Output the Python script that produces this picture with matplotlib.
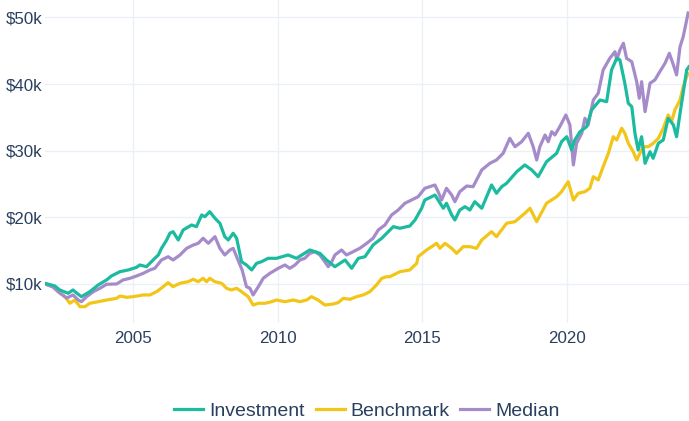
import matplotlib
matplotlib.use("Agg")
import matplotlib.pyplot as plt
from matplotlib.ticker import FuncFormatter

# growth of $10k, dates as decimal years
inv_year = [2001.95, 2002.29, 2002.46, 2002.75, 2002.92, 2003.04, 2003.21, 2003.50, 2003.79, 2004.08,
            2004.25, 2004.54, 2004.83, 2005.12, 2005.23, 2005.46, 2005.69, 2005.87, 2005.98, 2006.16,
            2006.27, 2006.38, 2006.56, 2006.73, 2007.02, 2007.19, 2007.37, 2007.48, 2007.65, 2007.83,
            2008.00, 2008.17, 2008.29, 2008.46, 2008.58, 2008.75, 2008.92, 2009.10, 2009.27, 2009.44,
            2009.67, 2009.96, 2010.36, 2010.65, 2011.11, 2011.46, 2011.69, 2011.98, 2012.33, 2012.56,
            2012.79, 2013.02, 2013.30, 2013.60, 2014.00, 2014.23, 2014.57, 2014.75, 2014.98, 2015.09,
            2015.33, 2015.44, 2015.55, 2015.73, 2015.84, 2016.02, 2016.13, 2016.30, 2016.48, 2016.65,
            2016.82, 2017.06, 2017.40, 2017.57, 2017.75, 2017.92, 2018.27, 2018.55, 2018.79, 2019.01,
            2019.30, 2019.65, 2019.82, 2020.00, 2020.17, 2020.28, 2020.46, 2020.69, 2020.86, 2021.15,
            2021.38, 2021.55, 2021.73, 2021.84, 2022.01, 2022.13, 2022.25, 2022.36, 2022.47, 2022.59,
            2022.71, 2022.88, 2022.99, 2023.17, 2023.34, 2023.51, 2023.69, 2023.80, 2023.92, 2024.15,
            2024.23]
inv_value = [10.10, 9.70, 9.10, 8.60, 9.10, 8.65, 8.09, 8.84, 9.85, 10.60,
             11.20, 11.84, 12.10, 12.50, 12.85, 12.59, 13.60, 14.35, 15.35, 16.60,
             17.61, 17.85, 16.60, 18.10, 18.85, 18.60, 20.35, 20.10, 20.85, 19.86,
             19.11, 17.10, 16.60, 17.61, 16.86, 13.34, 12.85, 12.10, 13.10, 13.34,
             13.85, 13.85, 14.35, 13.85, 15.10, 14.60, 13.60, 12.59, 13.60, 12.35,
             13.85, 14.09, 15.85, 16.86, 18.60, 18.36, 18.70, 19.60, 21.36, 22.60,
             23.10, 23.35, 22.60, 21.36, 22.11, 20.35, 19.60, 21.10, 21.60, 21.10,
             22.35, 21.36, 24.86, 23.61, 24.60, 25.11, 26.85, 27.86, 27.11, 26.10,
             28.35, 29.61, 31.35, 32.10, 30.11, 31.61, 32.86, 33.61, 36.11, 37.61,
             37.36, 42.12, 43.87, 43.62, 40.12, 37.12, 36.61, 32.62, 30.11, 32.10,
             28.11, 29.85, 28.86, 31.11, 31.61, 34.87, 33.86, 32.10, 35.62, 42.12,
             42.61]

bench_year = [2001.95, 2002.23, 2002.40, 2002.64, 2002.81, 2002.98, 2003.16, 2003.33, 2003.50, 2003.79,
              2004.08, 2004.43, 2004.54, 2004.77, 2005.00, 2005.35, 2005.58, 2005.81, 2006.04, 2006.21,
              2006.38, 2006.62, 2006.90, 2007.08, 2007.25, 2007.42, 2007.54, 2007.65, 2007.83, 2008.06,
              2008.23, 2008.40, 2008.58, 2008.75, 2008.98, 2009.15, 2009.33, 2009.56, 2009.79, 2009.96,
              2010.25, 2010.54, 2010.77, 2011.00, 2011.17, 2011.40, 2011.63, 2011.92, 2012.09, 2012.27,
              2012.50, 2012.73, 2012.96, 2013.19, 2013.42, 2013.60, 2013.77, 2013.88, 2014.23, 2014.57,
              2014.81, 2014.86, 2015.15, 2015.33, 2015.50, 2015.61, 2015.79, 2016.02, 2016.19, 2016.42,
              2016.65, 2016.88, 2017.06, 2017.40, 2017.57, 2017.92, 2018.21, 2018.55, 2018.73, 2018.96,
              2019.30, 2019.65, 2019.82, 2020.05, 2020.23, 2020.40, 2020.63, 2020.80, 2020.92, 2021.09,
              2021.26, 2021.44, 2021.61, 2021.73, 2021.90, 2022.01, 2022.13, 2022.30, 2022.42, 2022.53,
              2022.65, 2022.82, 2022.99, 2023.17, 2023.34, 2023.51, 2023.63, 2023.74, 2023.92, 2024.03,
              2024.15, 2024.20]
bench_value = [10.00, 9.59, 8.84, 8.09, 7.10, 7.59, 6.59, 6.59, 7.10, 7.34,
               7.59, 7.85, 8.19, 8.00, 8.09, 8.35, 8.35, 8.84, 9.59, 10.19,
               9.59, 10.10, 10.34, 10.70, 10.34, 10.85, 10.34, 10.85, 10.34, 10.10,
               9.35, 9.10, 9.35, 8.84, 8.09, 6.84, 7.10, 7.10, 7.34, 7.59,
               7.34, 7.59, 7.34, 7.59, 8.09, 7.59, 6.84, 6.99, 7.19, 7.85,
               7.70, 8.09, 8.35, 8.84, 9.85, 10.85, 11.09, 11.09, 11.84, 12.10,
               13.10, 14.09, 15.10, 15.60, 16.10, 15.35, 16.10, 15.35, 14.60, 15.60,
               15.60, 15.35, 16.60, 17.85, 17.10, 19.11, 19.35, 20.61, 21.36, 19.35,
               22.11, 23.10, 23.85, 25.35, 22.60, 23.61, 23.85, 24.36, 26.10, 25.61,
               27.60, 29.61, 32.10, 31.61, 33.37, 32.62, 31.11, 29.85, 28.61, 29.61,
               30.60, 30.60, 31.11, 31.86, 33.37, 35.36, 34.36, 36.11, 37.61, 39.61,
               41.11, 41.62]

med_year = [2001.95, 2002.22, 2002.46, 2002.70, 2002.92, 2003.10, 2003.21, 2003.39, 2003.62, 2003.85,
            2004.08, 2004.43, 2004.65, 2004.89, 2005.12, 2005.35, 2005.58, 2005.75, 2005.98, 2006.21,
            2006.38, 2006.62, 2006.85, 2007.08, 2007.25, 2007.42, 2007.60, 2007.83, 2008.00, 2008.17,
            2008.35, 2008.46, 2008.58, 2008.77, 2008.92, 2009.04, 2009.15, 2009.33, 2009.50, 2009.73,
            2010.02, 2010.25, 2010.42, 2010.60, 2010.77, 2010.94, 2011.11, 2011.29, 2011.46, 2011.63,
            2011.75, 2011.87, 2011.98, 2012.21, 2012.38, 2012.61, 2012.84, 2013.08, 2013.30, 2013.48,
            2013.71, 2013.94, 2014.17, 2014.40, 2014.63, 2014.86, 2015.09, 2015.33, 2015.44, 2015.55,
            2015.67, 2015.84, 2016.02, 2016.13, 2016.30, 2016.54, 2016.76, 2017.06, 2017.34, 2017.57,
            2017.80, 2018.03, 2018.21, 2018.44, 2018.67, 2018.84, 2018.96, 2019.07, 2019.25, 2019.36,
            2019.48, 2019.59, 2019.76, 2019.97, 2020.11, 2020.23, 2020.34, 2020.52, 2020.63, 2020.74,
            2020.92, 2021.09, 2021.26, 2021.49, 2021.67, 2021.73, 2021.84, 2021.96, 2022.07, 2022.25,
            2022.42, 2022.51, 2022.59, 2022.71, 2022.88, 2023.05, 2023.22, 2023.40, 2023.55, 2023.69,
            2023.80, 2023.92, 2024.03, 2024.20]
med_value = [10.00, 9.55, 8.65, 7.89, 8.35, 7.59, 7.34, 8.09, 8.84, 9.35,
             9.95, 10.00, 10.60, 10.85, 11.20, 11.60, 12.10, 12.35, 13.60, 14.09,
             13.60, 14.35, 15.35, 15.85, 16.10, 16.86, 16.10, 17.10, 15.35, 14.35,
             15.10, 15.35, 14.09, 12.10, 9.59, 9.35, 8.35, 9.59, 10.85, 11.60,
             12.35, 12.85, 12.35, 12.85, 13.60, 13.85, 14.60, 14.84, 14.35, 13.34,
             12.59, 13.34, 14.35, 15.10, 14.35, 14.84, 15.35, 16.10, 16.86, 18.10,
             18.85, 20.35, 21.10, 22.11, 22.60, 23.10, 24.36, 24.70, 24.86, 23.85,
             22.60, 24.36, 23.35, 22.35, 23.85, 24.70, 24.60, 27.11, 28.11, 28.61,
             29.61, 31.86, 30.60, 31.35, 32.62, 30.60, 28.61, 30.60, 32.36, 31.35,
             32.86, 32.36, 33.61, 35.36, 33.86, 27.86, 31.11, 32.62, 34.87, 33.86,
             37.61, 38.62, 42.12, 43.87, 44.86, 43.62, 45.12, 46.12, 43.87, 43.36,
             40.36, 37.87, 40.36, 35.86, 40.12, 40.62, 41.86, 43.12, 44.62, 42.87,
             41.37, 45.61, 47.11, 50.67]

y_ticks = [10000, 20000, 30000, 40000, 50000]
x_ticks = [2005, 2010, 2015, 2020]

plt.rcParams['font.family'] = ['Liberation Sans', 'DejaVu Sans']
text_color = '#2a3f5f'
grid_color = '#ebf0f8'

fig = plt.figure(figsize=(6.89, 4.21), dpi=100)
ax = fig.add_axes([45 / 689, 1 - 323 / 421, 644 / 689, 323 / 421])

ax.plot(inv_year, [v * 1000 for v in inv_value], color='#1cbba0', linewidth=2.3,
        label='Investment', solid_joinstyle='round', zorder=3)
ax.plot(bench_year, [v * 1000 for v in bench_value], color='#f2c618', linewidth=2.3,
        label='Benchmark', solid_joinstyle='round', zorder=2)
ax.plot(med_year, [v * 1000 for v in med_value], color='#a68bcb', linewidth=2.3,
        label='Median', solid_joinstyle='round', zorder=2.5)

ax.set_xlim(2001.95, 2024.23)
ax.set_ylim(4140, 52620)
ax.set_xticks(x_ticks)
ax.set_yticks(y_ticks)
ax.yaxis.set_major_formatter(FuncFormatter(lambda v, p: '$%dk' % round(v / 1000)))
ax.grid(True, color=grid_color, linewidth=1.0)
ax.set_axisbelow(True)
for s in ax.spines.values():
    s.set_visible(False)
ax.tick_params(length=0, labelsize=12.2, colors=text_color)
ax.tick_params(axis='y', pad=2)
ax.tick_params(axis='x', pad=6)

leg = ax.legend(loc='center', bbox_to_anchor=(0.5, -0.272), ncol=3, frameon=False,
                fontsize=14, handlelength=1.5, handletextpad=0.3, columnspacing=0.55)
for t in leg.get_texts():
    t.set_color(text_color)

fig.savefig('out.png', dpi=100)
